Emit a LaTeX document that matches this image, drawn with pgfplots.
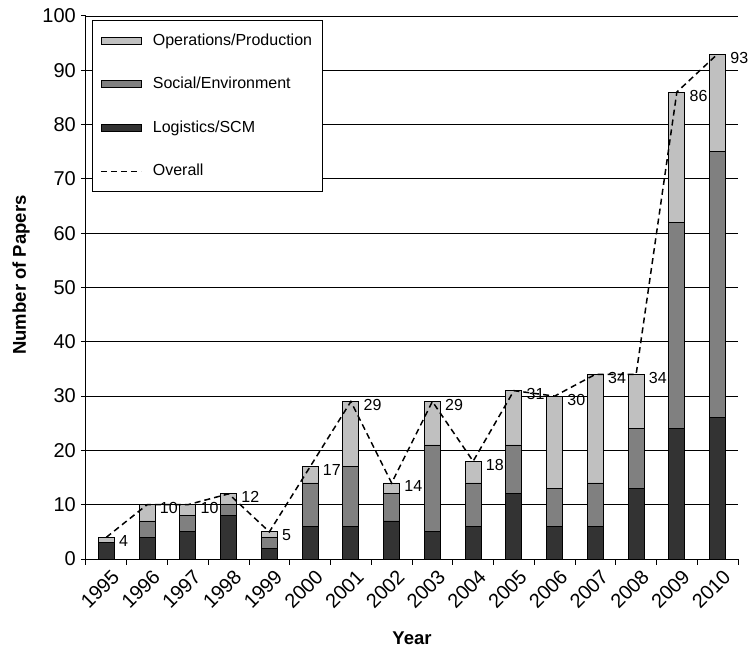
\documentclass[border=0pt]{standalone}
\usepackage{pgfplots}
\usepackage{pgfplotstable}
\pgfplotsset{compat=1.18}
\usepackage{fontspec}
\setmainfont{Liberation Sans}
\definecolor{opsc}{HTML}{C0C0C0}
\definecolor{socc}{HTML}{808080}
\definecolor{logc}{HTML}{333333}
\newcommand\fsTick{\fontsize{20bp}{23bp}\selectfont}
\newcommand\fsLab{\fontsize{18.5bp}{21bp}\selectfont\bfseries}
\newcommand\fsLeg{\fontsize{16bp}{18bp}\selectfont}
\newcommand\fsVal{\fontsize{16bp}{18bp}\selectfont}
\pgfplotsset{
  barlegend/.style={legend image code/.code={\draw[##1,line width=0.9bp] (0bp,-3.5bp) rectangle (40bp,3.5bp);}},
  linelegend/.style={legend image code/.code={\draw[##1] (0bp,0bp) -- (40bp,0bp);}},
  commonax/.style={width=652bp, height=543bp, scale only axis,
    xmin=-0.5, xmax=15.5, ymin=0, ymax=100,
    /pgf/number format/assume math mode=true},
}
\pgfplotstableread{
x year L S O T
0 1995 3 0 1 4
1 1996 4 3 3 10
2 1997 5 3 2 10
3 1998 8 2 2 12
4 1999 2 2 1 5
5 2000 6 8 3 17
6 2001 6 11 12 29
7 2002 7 5 2 14
8 2003 5 16 8 29
9 2004 6 8 4 18
10 2005 12 9 10 31
11 2006 6 7 17 30
12 2007 6 8 20 34
13 2008 13 11 10 34
14 2009 24 38 24 86
15 2010 26 49 18 93
}\datatable
\begin{document}
\begin{tikzpicture}
\begin{axis}[commonax, name=ax,
  ybar stacked, bar width=16bp,
  axis x line*=bottom, axis y line*=left,
  axis line style={line width=1bp, -},
  tick align=outside, major tick length=5bp,
  ytick={0,10,...,100},
  ymajorgrids, grid style={black, line width=0.8bp},
  ytick style={black, line width=1bp},
  yticklabel style={font=\fsTick, inner sep=2bp, xshift=-3bp},
  xtick={0,...,15},
  xticklabels={1995,1996,1997,1998,1999,2000,2001,2002,2003,2004,2005,2006,2007,2008,2009,2010},
  xtick style={draw=none},
  extra x ticks={-0.5,0.5,...,15.5},
  extra x tick labels={},
  extra x tick style={xtick style={draw=black, line width=1bp}, major tick length=6bp},
  xticklabel style={font=\fsTick, rotate=45, anchor=north east, inner sep=1bp, yshift=-5bp, xshift=1bp},
  xlabel={Year}, ylabel={Number of Papers},
  xlabel style={font=\fsLab, at={([yshift=-79bp]rel axis cs:0.5,0)}, anchor=center},
  ylabel style={font=\fsLab, at={([xshift=-65bp]rel axis cs:0,0.523)}, anchor=center},
]
\addplot[fill=logc, draw=black, line width=0.9bp] table[x=x, y=L] {\datatable};
\addplot[fill=socc, draw=black, line width=0.9bp] table[x=x, y=S] {\datatable};
\addplot[fill=opsc, draw=black, line width=0.9bp] table[x=x, y=O] {\datatable};
\end{axis}
\begin{axis}[commonax, hide axis, clip=false,
  legend cell align=left,
  legend style={at={(0.009,0.9926)}, anchor=north west, draw=black, line width=1bp,
    fill=white, inner xsep=8bp, inner ysep=11bp, row sep=25bp, font=\fsLeg,
    nodes={text height=11.5bp, text depth=3bp, inner sep=2bp},
    /tikz/every odd column/.append style={column sep=9bp}},
]
\addlegendimage{barlegend, fill=opsc, draw=black}
\addlegendentry{Operations/Production}
\addlegendimage{barlegend, fill=socc, draw=black}
\addlegendentry{Social/Environment}
\addlegendimage{barlegend, fill=logc, draw=black}
\addlegendentry{Logistics/SCM}
\addplot[black, line width=1.5bp, dash pattern=on 6bp off 4bp, linelegend,
  nodes near coords,
  nodes near coords style={anchor=west, xshift=11bp, yshift=-3.5bp, font=\fsVal, text=black, solid, inner sep=1bp}]
  table[x=x, y=T] {\datatable};
\addlegendentry{Overall}
\end{axis}
\pgfresetboundingbox
\path ([xshift=-86bp,yshift=-90bp]ax.south west) rectangle ([xshift=14bp,yshift=16bp]ax.north east);
\end{tikzpicture}
\end{document}
